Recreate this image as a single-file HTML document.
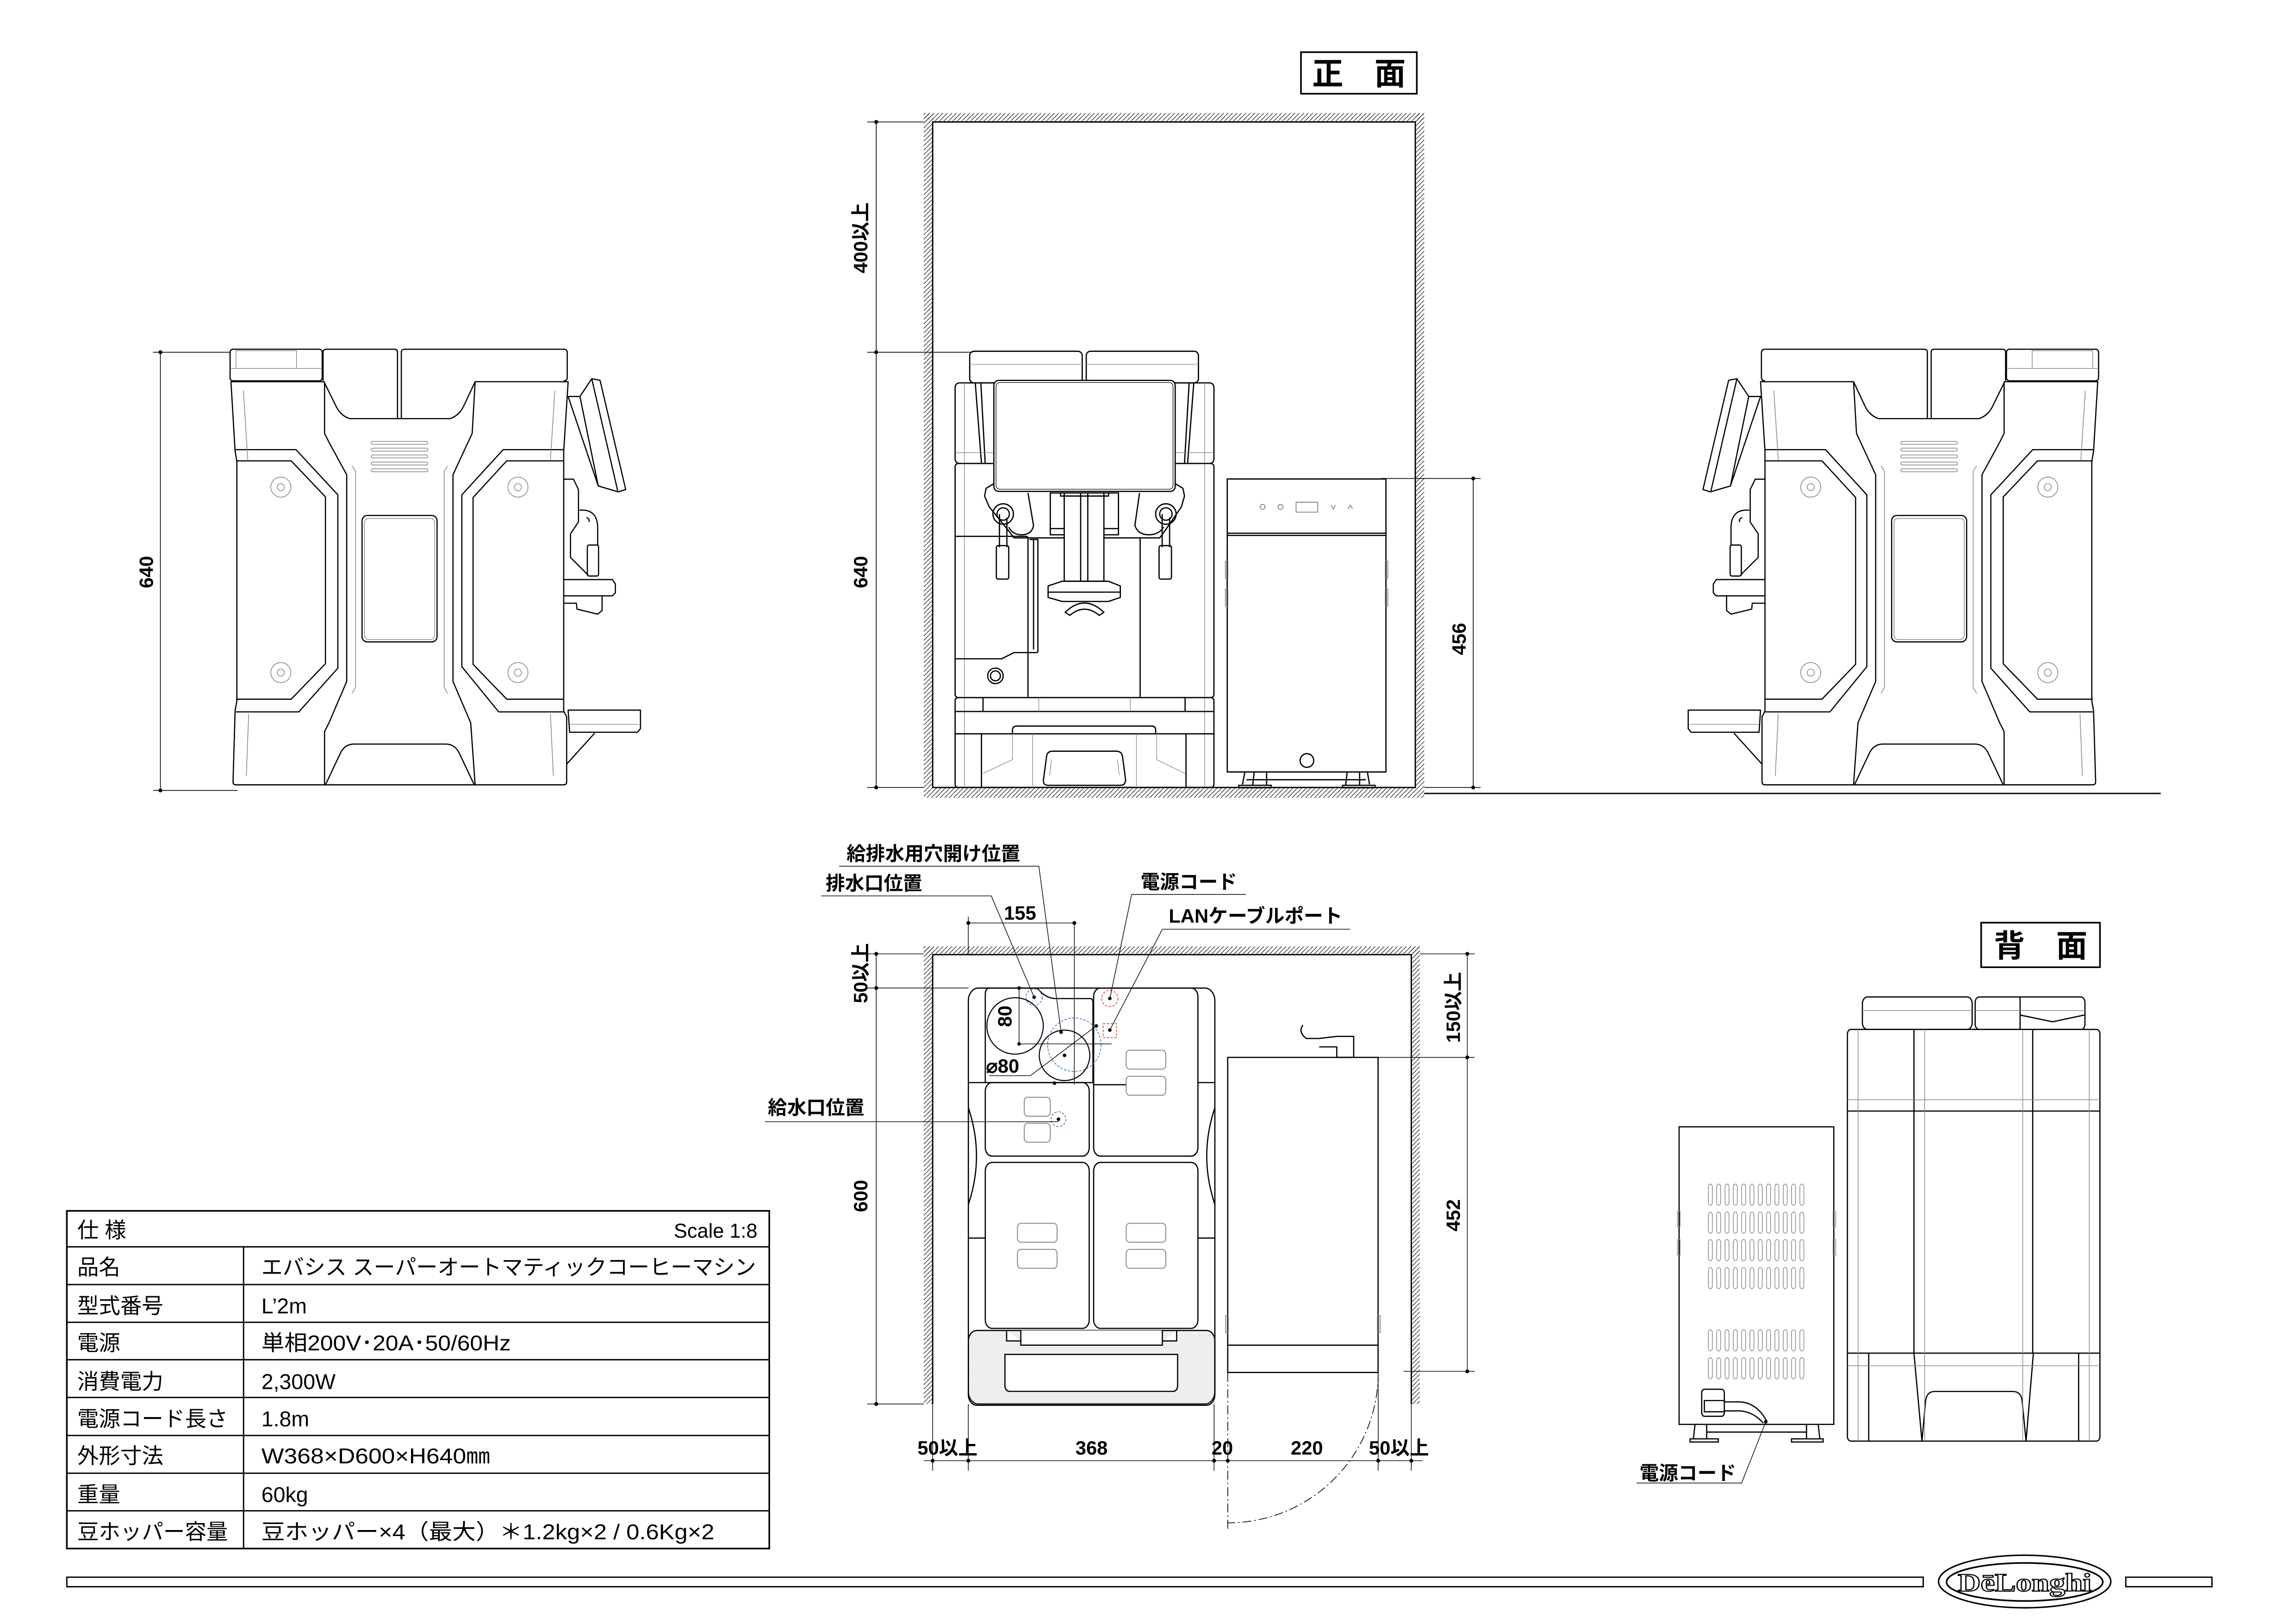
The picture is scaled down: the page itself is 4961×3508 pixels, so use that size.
<!DOCTYPE html>
<html><head><meta charset="utf-8"><style>
html,body{margin:0;padding:0;background:#fff;}
svg{display:block}
text{font-family:"Liberation Sans","Noto Sans CJK JP",sans-serif;fill:#000}
</style></head><body>
<svg xmlns="http://www.w3.org/2000/svg" xmlns:xlink="http://www.w3.org/1999/xlink" width="4961" height="3508" viewBox="0 0 1546 1093">
<defs>
<pattern id="h" patternUnits="userSpaceOnUse" width="3" height="3"><path d="M-1 4 L4 -1" stroke="#000" stroke-width="0.35"/></pattern>
<pattern id="hl" patternUnits="userSpaceOnUse" width="4" height="1.6"><path d="M0 0.8 H4" stroke="#999" stroke-width="0.3"/></pattern>
<g id="side" fill="none" stroke="#000" stroke-width="4" stroke-linejoin="round" transform="translate(142,232) scale(0.1988)">
 <rect x="65" y="15" width="312" height="107" rx="10"/>
 <path d="M85 80 V20 H290 V80 M65 80 H377" stroke="#777" stroke-width="2"/>
 <path d="M380 122 V25 Q380 15 392 15 H622 Q632 15 632 25 V250"/>
 <path d="M645 250 V25 Q645 15 657 15 H1195 Q1207 15 1207 27 V110 Q1207 122 1195 122"/>
 <path d="M68 125 H383 L425 210 Q440 240 470 250 H810 Q840 240 855 210 L895 125 H1210 L1195 360 V1240 L1205 1260 V1480 Q1205 1490 1195 1490 H85 Q75 1490 75 1480 L82 1240 L88 1205 V395 L82 360 Z"/>
 <path d="M385 125 V300 L400 330 L460 440 V1140 L400 1280 L385 1310 V1490"/>
 <path d="M895 125 L885 300 L820 440 V1140 L880 1280 L895 1490"/>
 <path d="M388 1490 L440 1380 Q455 1352 485 1352 H795 Q825 1352 840 1380 L892 1490"/>
 <path d="M80 355 H288 L430 508 V1095 L298 1243 H85"/>
 <path d="M85 393 H272 L388 515 V1080 L272 1200 H85"/>
 <path d="M1195 355 H990 L850 508 V1090 L975 1243 H1195"/>
 <path d="M1193 393 H1002 L888 517 V1082 L1002 1200 H1193"/>
 <g stroke="#888" stroke-width="2.5">
  <circle cx="237" cy="482" r="34"/><circle cx="237" cy="482" r="12"/>
  <circle cx="237" cy="1110" r="34"/><circle cx="237" cy="1110" r="12"/>
  <circle cx="1040" cy="482" r="34"/><circle cx="1040" cy="482" r="12"/>
  <circle cx="1040" cy="1110" r="34"/><circle cx="1040" cy="1110" r="12"/>
  <rect x="543" y="327" width="192" height="10" rx="5"/><rect x="543" y="350" width="192" height="10" rx="5"/>
  <rect x="543" y="373" width="192" height="10" rx="5"/><rect x="543" y="397" width="192" height="10" rx="5"/>
  <rect x="543" y="420" width="192" height="10" rx="5"/>
  <rect x="520" y="588" width="238" height="410" rx="14"/>
  <path d="M110 155 L125 390 M1165 155 L1150 390 M128 1250 L120 1460 M1150 1250 L1160 1460 M478 410 L490 428 V1160 L478 1180 M802 410 L790 428 V1160 L802 1180"/>
 </g>
 <rect x="512" y="578" width="254" height="428" rx="18"/>
 <path d="M1210 175 H1250 L1290 115 L1318 120 L1405 490 L1380 498 L1312 478 Z M1290 115 L1378 495 M1250 175 L1312 478"/>
 <path d="M1195 455 H1228 L1245 490 V600 L1218 640 V720 L1278 780"/>
 <path d="M1248 560 Q1310 555 1310 620 V680 M1280 600 Q1285 590 1272 585"/>
 <rect x="1275" y="678" width="38" height="105" rx="6"/>
 <path d="M1195 795 H1360 L1370 810 V840 L1360 850 H1195 M1195 875 H1238 L1240 895 L1310 912 L1325 900 V850"/>
 <path d="M1210 1237 H1455 V1300 L1445 1312 H1215 Z M1300 1315 L1205 1420"/>
 <path d="M1215 1285 H1450" stroke="#888" stroke-width="2"/>
</g>
</defs>

<!-- titles -->
<rect x="876" y="35" width="78" height="28" fill="none" stroke="#000" stroke-width="1.1"/>
<text x="915" y="57" font-size="21" font-weight="bold" text-anchor="middle">正　面</text>
<rect x="1334" y="621" width="80" height="30" fill="none" stroke="#000" stroke-width="1.1"/>
<text x="1374" y="644" font-size="21" font-weight="bold" text-anchor="middle">背　面</text>

<!-- front walls -->
<rect x="622" y="76" width="6" height="461" fill="url(#h)"/>
<rect x="622" y="76" width="337" height="6" fill="url(#h)"/>
<rect x="953" y="76" width="6" height="461" fill="url(#h)"/>
<rect x="628" y="530" width="325" height="7" fill="url(#h)"/>
<path d="M628 530 V82 H953 V530 Z" fill="none" stroke="#000" stroke-width="0.9"/>
<path d="M959 534 H1455" stroke="#000" stroke-width="0.9"/>

<!-- side views -->
<use xlink:href="#side"/>
<use xlink:href="#side" transform="translate(1568,0) scale(-1,1)"/>

<!-- front view -->
<g fill="none" stroke="#000" stroke-width="4" stroke-linejoin="round" transform="translate(640,230.5) scale(0.2087)">
 <rect x="62" y="28" width="363" height="102" rx="14"/><rect x="438" y="28" width="362" height="102" rx="14"/>
 <path d="M62 70 H425 M438 70 H800" stroke="#888" stroke-width="2"/>
 <rect x="15" y="130" width="835" height="260" rx="14"/>
 <path d="M80 130 L100 390 M98 130 L112 390 M785 130 L765 390 M770 130 L755 390" />
 <path d="M15 355 H850 M45 130 V1435 M820 130 V1435" stroke="#888" stroke-width="2"/>
 <rect x="15" y="390" width="835" height="755" rx="10"/>
 <path d="M140 455 L115 470 L110 495 L125 530 L190 610 L205 630 H675 L690 610 L745 530 L755 495 L750 470 L725 455"/>
 <path d="M250 485 L268 590 Q262 620 230 620 Q200 620 188 595 M610 485 L595 590 Q605 620 640 620 Q672 620 688 595"/>
 <rect x="140" y="122" width="585" height="358" rx="16" fill="#fff"/>
 <rect x="147" y="129" width="571" height="344" rx="12" stroke-width="2"/>
 <circle cx="170" cy="553" r="33"/><circle cx="170" cy="553" r="20"/>
 <circle cx="695" cy="553" r="33"/><circle cx="695" cy="553" r="20"/>
 <path d="M158 553 V660 M182 565 V660 M683 553 V660 M707 565 V660"/>
 <rect x="148" y="655" width="40" height="108" rx="6"/><rect x="673" y="655" width="40" height="108" rx="6"/>
 <rect x="322" y="485" width="220" height="135"/>
 <rect x="367" y="485" width="128" height="285" fill="#fff"/>
 <path d="M420 485 V770 M443 485 V770 M355 485 V495 H510 V485 M322 600 H367 M495 600 H542"/>
 <path d="M315 785 L360 770 H510 L548 785 V822 L510 835 H360 L315 822 Z M315 805 H548"/>
 <path d="M370 870 Q432 810 495 870 L480 880 Q432 840 385 880 Z"/>
 <path d="M15 625 H245 Q250 625 250 635 V1000 H205 L165 1020 H15 M250 1000 V1145 M255 635 H282 V995 Q282 1000 275 1000 H250 M268 635 V990 M612 630 V1145"/>
 <circle cx="145" cy="1075" r="25"/><circle cx="145" cy="1075" r="16"/>
 <rect x="15" y="1145" width="835" height="290" rx="10"/>
 <path d="M15 1190 H850 M15 1262 H850 M105 1145 V1190 M757 1145 V1190 M100 1262 V1435 M760 1262 V1435"/>
 <path d="M200 1262 V1250 Q200 1237 215 1237 H648 Q662 1237 662 1250 V1262"/>
 <path d="M330 1318 H535 Q552 1318 555 1335 L565 1410 Q565 1428 548 1428 H315 Q298 1428 300 1410 L310 1335 Q312 1318 330 1318 Z"/>
 <path d="M105 1390 L200 1345 V1262 M757 1390 L665 1345 V1262 M265 1262 V1435 M600 1262 V1435 M285 1145 V1190 M580 1145 V1190 M320 1395 L326 1345 M545 1395 L538 1345" stroke="#888" stroke-width="2"/>
 <rect x="893" y="440" width="512" height="945"/>
 <path d="M893 615 H1405 M893 622 H1405"/>
 <g stroke="#777" stroke-width="2.5"><circle cx="1007" cy="530" r="8"/><circle cx="1065" cy="530" r="8"/><rect x="1115" y="515" width="70" height="32"/><path d="M1228 524 L1235 537 L1242 524 M1283 537 L1290 524 L1297 537"/>
  <rect x="887" y="705" width="8" height="55"/><rect x="887" y="795" width="8" height="55"/><rect x="1403" y="705" width="8" height="55"/><rect x="1403" y="795" width="8" height="55"/></g>
 <circle cx="1150" cy="1348" r="22"/>
 <path d="M950 1385 L942 1425 M980 1385 L975 1428 M1020 1385 V1428 M955 1410 H1340 M1280 1385 L1275 1428 M1320 1385 V1428 M1345 1385 L1352 1425"/>
 <rect x="930" y="1428" width="105" height="8"/><rect x="1265" y="1428" width="105" height="8"/>
</g>

<!-- front dims -->
<g stroke="#000" stroke-width="0.5" fill="none">
 <path d="M590 82 V530 M584 82 H622 M584 237 H655 M584 530 H622"/>
 <path d="M108 237 V532 M103 237 H155 M103 532 H160"/>
 <path d="M992 322 V530 M930 322 H997 M959 530 H997"/>
</g>
<g fill="#000">
 <circle cx="590" cy="82" r="1.3"/><circle cx="590" cy="237" r="1.3"/><circle cx="590" cy="530" r="1.3"/>
 <circle cx="108" cy="237" r="1.3"/><circle cx="108" cy="532" r="1.3"/>
 <circle cx="992" cy="322" r="1.3"/><circle cx="992" cy="530" r="1.3"/>
</g>
<g font-size="13" text-anchor="middle" font-weight="bold">
 <text transform="translate(584,160) rotate(-90)">400以上</text>
 <text transform="translate(584,385) rotate(-90)">640</text>
 <text transform="translate(103,385) rotate(-90)">640</text>
 <text transform="translate(987,430) rotate(-90)">456</text>
</g>

<!-- plan walls -->
<rect x="622" y="637" width="6" height="308" fill="url(#h)"/>
<rect x="622" y="637" width="334" height="6" fill="url(#h)"/>
<rect x="950" y="637" width="6" height="308" fill="url(#h)"/>
<path d="M628 945 V642.5 H950.3 V945" fill="none" stroke="#000" stroke-width="0.9"/>

<!-- plan machine -->
<g fill="none" stroke="#000" transform="translate(649.3,551.9) scale(0.228,0.2828)">
 <g vector-effect="non-scaling-stroke" stroke-width="2.6">
 <rect x="12" y="400" width="728" height="990" rx="30" vector-effect="non-scaling-stroke"/>
 <path d="M75 400 H215 Q240 425 270 425 H372 Q380 425 380 435 V625 H62 V415 Q62 400 75 400 Z" vector-effect="non-scaling-stroke"/>
 <rect x="62" y="625" width="307" height="175" rx="20" vector-effect="non-scaling-stroke"/>
 <rect x="382" y="400" width="308" height="400" rx="20" vector-effect="non-scaling-stroke"/>
 <rect x="62" y="815" width="307" height="395" rx="20" vector-effect="non-scaling-stroke"/>
 <rect x="382" y="815" width="308" height="395" rx="20" vector-effect="non-scaling-stroke"/>
 <path d="M12 625 H62 M12 995 H62 M690 625 H740 M690 995 H740 M12 685 Q60 800 12 915 M740 685 Q692 800 740 915 M382 630 H478" vector-effect="non-scaling-stroke"/>
 <rect x="12" y="1215" width="728" height="178" rx="25" fill="url(#hl)" vector-effect="non-scaling-stroke"/>
 <path d="M120 1272 H630 V1345 Q630 1360 615 1360 H135 Q120 1360 120 1345 Z" fill="#fff" vector-effect="non-scaling-stroke"/>
 <path d="M167 1215 V1250 H585 V1215 M125 1215 V1240 H167 M585 1240 H627 V1215" fill="#fff" vector-effect="non-scaling-stroke"/>
 <rect x="778" y="565" width="444" height="750" vector-effect="non-scaling-stroke"/>
 <path d="M778 1250 H1222 M1000 488 Q985 505 1010 520 H1050 M1048 520 L1100 515 H1150 V565 H1100 V540 H1048" vector-effect="non-scaling-stroke"/>
 </g>
 <g stroke="#888" stroke-width="2">
 <rect x="478" y="548" width="117" height="45" rx="10" vector-effect="non-scaling-stroke"/><rect x="478" y="610" width="117" height="45" rx="10" vector-effect="non-scaling-stroke"/>
 <rect x="177" y="660" width="77" height="45" rx="10" vector-effect="non-scaling-stroke"/><rect x="177" y="722" width="77" height="45" rx="10" vector-effect="non-scaling-stroke"/>
 <rect x="157" y="960" width="117" height="45" rx="10" vector-effect="non-scaling-stroke"/><rect x="157" y="1022" width="117" height="45" rx="10" vector-effect="non-scaling-stroke"/>
 <rect x="478" y="960" width="117" height="45" rx="10" vector-effect="non-scaling-stroke"/><rect x="478" y="1022" width="117" height="45" rx="10" vector-effect="non-scaling-stroke"/>
 <rect x="772" y="1180" width="8" height="40" vector-effect="non-scaling-stroke"/><rect x="1220" y="1180" width="8" height="40" vector-effect="non-scaling-stroke"/>
 </g>
</g>
<!-- plan circles -->
<g fill="none" stroke="#000" stroke-width="0.7">
 <circle cx="683.5" cy="690.5" r="19"/>
 <circle cx="716.8" cy="710.3" r="17"/>
</g>
<g fill="none" stroke="#3a6fb5" stroke-width="0.5" stroke-dasharray="1.6 1">
 <circle cx="723.4" cy="703.2" r="18"/>
 <circle cx="696.3" cy="671.2" r="5.5"/>
 <circle cx="712.7" cy="753.3" r="5"/>
</g>
<g fill="none" stroke="#e03a2a" stroke-width="0.5" stroke-dasharray="1.6 1">
 <circle cx="747.3" cy="672" r="5.5"/>
 <rect x="742.8" y="689" width="9" height="9.4"/>
</g>
<!-- plan leaders & dims -->
<g stroke="#000" stroke-width="0.45" fill="none">
 <path d="M686.2 665 V702.6 M686.2 702.6 H748.5"/>
 <path d="M666 724 H693.8 L738.2 690.5"/>
 <path d="M553 603 H667.5 L696.3 671.2"/>
 <path d="M565 583 H699.5 L714.5 694.7"/>
 <path d="M762 602 H839 M762 602 L747.3 672"/>
 <path d="M782.7 625.4 H909 M782.7 625.4 L747.3 693.3"/>
 <path d="M515 755 H712.7"/>
 <path d="M652 621.2 H723.4 M723.4 621.2 V730 M652 617 V642"/>
 <path d="M590 642 V945 M584 642 H622 M584 665 H652 M584 945 H622"/>
 <path d="M988 642 V923 M956 642 H993 M928 711.7 H993 M945 923 H993"/>
 <path d="M622 983.2 H958 M628 945 V990 M652 945 V990 M817.5 945 V990 M928 925 V990 M950.3 945 V990"/>
</g>
<path d="M826.7 924 V1030" stroke="#000" stroke-width="0.5" stroke-dasharray="6 2 1 2" fill="none"/>
<path d="M928 924 A101 101 0 0 1 826.7 1025" stroke="#000" stroke-width="0.5" stroke-dasharray="6 2 1 2" fill="none"/>
<g fill="#000">
 <circle cx="686.2" cy="665" r="1.2"/><circle cx="686.2" cy="702.6" r="1.2"/><circle cx="738.2" cy="690.5" r="1.2"/>
 <circle cx="696.3" cy="671.2" r="1.2"/><circle cx="714.5" cy="694.7" r="1.2"/><circle cx="716.8" cy="710.3" r="1.2"/>
 <circle cx="747.3" cy="672" r="1.2"/><circle cx="747.3" cy="693.3" r="1.2"/><circle cx="712.7" cy="753.3" r="1.2"/><circle cx="710" cy="729" r="1.2"/>
 <circle cx="652" cy="621.2" r="1.3"/><circle cx="723.4" cy="621.2" r="1.3"/>
 <circle cx="590" cy="642" r="1.3"/><circle cx="590" cy="665" r="1.3"/><circle cx="590" cy="945" r="1.3"/>
 <circle cx="988" cy="642" r="1.3"/><circle cx="988" cy="711.7" r="1.3"/><circle cx="988" cy="923" r="1.3"/>
 <circle cx="628" cy="983.2" r="1.3"/><circle cx="652" cy="983.2" r="1.3"/><circle cx="817.5" cy="983.2" r="1.3"/><circle cx="826.7" cy="983.2" r="1.3"/><circle cx="928" cy="983.2" r="1.3"/><circle cx="950.3" cy="983.2" r="1.3"/>
</g>
<g font-size="13" font-weight="bold">
 <text x="570" y="579">給排水用穴開け位置</text>
 <text x="556" y="599">排水口位置</text>
 <text x="768" y="598">電源コード</text>
 <text x="787" y="621">LANケーブルポート</text>
 <text x="517" y="750">給水口位置</text>
 <text x="676" y="619">155</text>
 <text x="664" y="722">⌀80</text>
 <text transform="translate(681,684) rotate(-90)" text-anchor="middle">80</text>
 <text x="638" y="979" text-anchor="middle">50以上</text>
 <text x="735" y="979" text-anchor="middle">368</text>
 <text x="823" y="979" text-anchor="middle">20</text>
 <text x="880" y="979" text-anchor="middle">220</text>
 <text x="942" y="979" text-anchor="middle">50以上</text>
 <text transform="translate(584,655) rotate(-90)" text-anchor="middle">50以上</text>
 <text transform="translate(584,805) rotate(-90)" text-anchor="middle">600</text>
 <text transform="translate(983,678) rotate(-90)" text-anchor="middle">150以上</text>
 <text transform="translate(983,818) rotate(-90)" text-anchor="middle">452</text>
</g>

<!-- back view -->
<g fill="none" stroke="#000" transform="translate(1104.4,625.5) scale(0.224,0.3035)">
 <g stroke-width="2.6">
 <rect x="668" y="150" width="330" height="72" rx="15" vector-effect="non-scaling-stroke"/>
 <rect x="1007" y="150" width="330" height="72" rx="12" vector-effect="non-scaling-stroke"/>
 <path d="M1142 150 V222 M1142 190 L1240 205 L1335 190" vector-effect="non-scaling-stroke"/>
 <rect x="623" y="222" width="759" height="913" rx="10" vector-effect="non-scaling-stroke"/>
 <path d="M823 222 V940 M1180 222 V940 M623 403 H1382 M623 940 H1382 M687 940 V1135 M1318 940 V1135 M823 940 L847 1135 M1182 940 L1160 1135 M847 1135 L858 1045 Q862 1025 885 1025 H1120 Q1145 1025 1148 1045 L1160 1135" vector-effect="non-scaling-stroke"/>
 <rect x="117" y="438" width="465" height="660" vector-effect="non-scaling-stroke"/>
 <path d="M165 1097 L160 1130 M200 1097 V1130 M200 1115 H500 M500 1097 V1130 M535 1097 L540 1130" vector-effect="non-scaling-stroke"/>
 <rect x="150" y="1130" width="85" height="7" vector-effect="non-scaling-stroke"/><rect x="455" y="1130" width="95" height="7" vector-effect="non-scaling-stroke"/>
 <rect x="185" y="1020" width="68" height="60" rx="8" vector-effect="non-scaling-stroke"/><rect x="193" y="1045" width="60" height="25" vector-effect="non-scaling-stroke"/>
 <path d="M253 1048 H300 Q350 1050 380 1090 M253 1068 H300 Q340 1070 370 1095" vector-effect="non-scaling-stroke"/>
 </g>
 <g stroke="#888" stroke-width="1.5">
 <path d="M668 180 H998 M1007 180 H1337 M623 378 H1382 M623 968 H1382 M655 222 V1135 M855 222 V1135 M1150 222 V1135 M1350 222 V1135" vector-effect="non-scaling-stroke"/>
 <rect x="112" y="625" width="8" height="35" vector-effect="non-scaling-stroke"/><rect x="112" y="688" width="8" height="35" vector-effect="non-scaling-stroke"/>
 <rect x="580" y="625" width="8" height="35" vector-effect="non-scaling-stroke"/><rect x="580" y="688" width="8" height="35" vector-effect="non-scaling-stroke"/>
 </g>
 <g stroke="#888" stroke-width="1.5" id="vents">
  <g id="vrow">
   <rect x="205" y="565" width="12" height="47" rx="6" vector-effect="non-scaling-stroke"/><rect x="230" y="565" width="12" height="47" rx="6" vector-effect="non-scaling-stroke"/>
   <rect x="255" y="565" width="12" height="47" rx="6" vector-effect="non-scaling-stroke"/><rect x="280" y="565" width="12" height="47" rx="6" vector-effect="non-scaling-stroke"/>
   <rect x="305" y="565" width="12" height="47" rx="6" vector-effect="non-scaling-stroke"/><rect x="330" y="565" width="12" height="47" rx="6" vector-effect="non-scaling-stroke"/>
   <rect x="355" y="565" width="12" height="47" rx="6" vector-effect="non-scaling-stroke"/><rect x="380" y="565" width="12" height="47" rx="6" vector-effect="non-scaling-stroke"/>
   <rect x="405" y="565" width="12" height="47" rx="6" vector-effect="non-scaling-stroke"/><rect x="430" y="565" width="12" height="47" rx="6" vector-effect="non-scaling-stroke"/>
   <rect x="455" y="565" width="12" height="47" rx="6" vector-effect="non-scaling-stroke"/><rect x="480" y="565" width="12" height="47" rx="6" vector-effect="non-scaling-stroke"/>
  </g>
  <use xlink:href="#vrow" y="62"/><use xlink:href="#vrow" y="123"/><use xlink:href="#vrow" y="185"/>
  <use xlink:href="#vrow" y="323"/><use xlink:href="#vrow" y="385"/>
 </g>
</g>
<path d="M1189 957 L1172.7 998.2 H1102" stroke="#000" stroke-width="0.45" fill="none"/>
<circle cx="1189" cy="957" r="1.2"/>
<text x="1104" y="996" font-size="13" font-weight="bold">電源コード</text>

<!-- spec table -->
<g stroke="#000" fill="none">
 <rect x="45" y="815" width="473" height="227.3" stroke-width="1.1"/>
 <path d="M45 839.2 H518 M45 864.6 H518 M45 890 H518 M45 915.2 H518 M45 940.6 H518 M45 966.2 H518 M45 991.6 H518 M45 1016.9 H518 M164 839.2 V1042.3" stroke-width="0.9"/>
</g>
<g font-size="14.5">
 <text x="52" y="833">仕 様</text>
 <text x="510" y="833" text-anchor="end" font-size="13.5">Scale 1:8</text>
 <text x="52" y="858">品名</text><text x="176" y="858" textLength="333" lengthAdjust="spacingAndGlyphs">エバシス スーパーオートマティックコーヒーマシン</text>
 <text x="52" y="884">型式番号</text><text x="176" y="884">L’2m</text>
 <text x="52" y="909">電源</text><text x="176" y="909" textLength="168" lengthAdjust="spacingAndGlyphs">単相200V･20A･50/60Hz</text>
 <text x="52" y="935">消費電力</text><text x="176" y="935">2,300W</text>
 <text x="52" y="960">電源コード長さ</text><text x="176" y="960">1.8m</text>
 <text x="52" y="985">外形寸法</text><text x="176" y="985" textLength="154" lengthAdjust="spacingAndGlyphs">W368×D600×H640㎜</text>
 <text x="52" y="1011">重量</text><text x="176" y="1011">60kg</text>
 <text x="52" y="1036">豆ホッパー容量</text><text x="176" y="1036" textLength="305" lengthAdjust="spacingAndGlyphs">豆ホッパー×4（最大）＊1.2kg×2 / 0.6Kg×2</text>
</g>

<!-- bottom bar & logo -->
<rect x="45" y="1061.6" width="1250" height="6.4" fill="none" stroke="#000" stroke-width="0.9"/>
<rect x="1431.4" y="1061.6" width="58" height="6.4" fill="none" stroke="#000" stroke-width="0.9"/>
<ellipse cx="1363.3" cy="1064.5" rx="58" ry="17.7" fill="none" stroke="#000" stroke-width="1"/>
<ellipse cx="1363.3" cy="1064.8" rx="52.6" ry="12.8" fill="none" stroke="#000" stroke-width="1.1"/>
<text x="1363.3" y="1071" font-size="17" font-weight="bold" text-anchor="middle" style="font-family:'Liberation Serif',serif;fill:#fff;stroke:#000;stroke-width:0.7" textLength="90" lengthAdjust="spacingAndGlyphs">DēLonghi</text>
</svg>
</body></html>
